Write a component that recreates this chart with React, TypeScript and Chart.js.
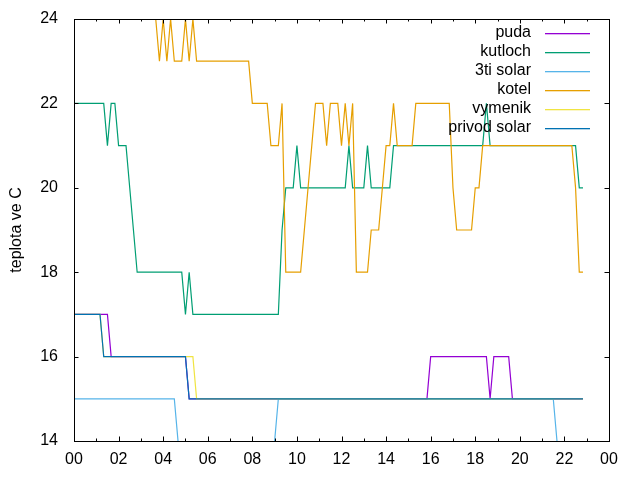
import React, { useEffect, useRef } from "react";
import { Chart, registerables } from "chart.js";

Chart.register(...registerables);

// ---------- data ----------
const seriesNames = ["puda", "kutloch", "3ti solar", "kotel", "vymenik", "privod solar"];
const seriesColors = ["#9400d3", "#009e73", "#56b4e9", "#e69f00", "#f0e442", "#0072b2"];

const pudaTimes = ["00:00", "01:30", "01:40", "05:00", "05:10", "15:50", "16:00", "18:30", "18:40", "18:50", "19:30", "19:40", "22:50"];
const pudaValues = [17, 17, 16, 16, 15, 15, 16, 16, 15, 16, 16, 15, 15];

const kutlochTimes = ["00:00", "01:20", "01:30", "01:40", "01:50", "02:00", "02:20", "02:30", "02:40", "02:50", "04:50", "05:00", "05:10", "05:20", "09:10", "09:20", "09:30", "09:50", "10:00", "10:10", "12:10", "12:20", "12:30", "13:00", "13:10", "13:20", "14:10", "14:20", "18:20", "18:30", "18:40", "22:30", "22:40", "22:50"];
const kutlochValues = [22, 22, 21, 22, 22, 21, 21, 20, 19, 18, 18, 17, 18, 17, 17, 19, 20, 20, 21, 20, 20, 21, 20, 20, 21, 20, 20, 21, 21, 22, 21, 21, 20, 20];

const solar3Times = ["00:00", "04:30", "04:40", "04:50", "08:50", "09:00", "09:10", "21:30", "21:40", "21:50", "22:50"];
const solar3Values = [15, 15, 14, 13, 13, 14, 15, 15, 14, 13, 13];

const kotelTimes = ["00:00", "03:30", "03:40", "03:50", "04:00", "04:10", "04:20", "04:30", "04:50", "05:00", "05:10", "05:20", "05:30", "07:50", "08:00", "08:40", "08:50", "09:10", "09:20", "09:30", "10:10", "10:20", "10:30", "10:40", "10:50", "11:10", "11:20", "11:30", "11:50", "12:00", "12:10", "12:20", "12:30", "12:40", "13:10", "13:20", "13:40", "13:50", "14:00", "14:10", "14:20", "14:30", "15:10", "15:20", "16:50", "17:00", "17:10", "17:50", "18:00", "18:10", "18:20", "22:20", "22:30", "22:40", "22:50"];
const kotelValues = [25, 25, 24, 23, 24, 23, 24, 23, 23, 24, 23, 24, 23, 23, 22, 22, 21, 21, 22, 18, 18, 19, 20, 21, 22, 22, 21, 22, 22, 21, 22, 21, 22, 18, 18, 19, 19, 20, 21, 21, 22, 21, 21, 22, 22, 20, 19, 19, 20, 20, 21, 21, 20, 18, 18];

const vymenikTimes = ["00:00", "01:10", "01:20", "05:20", "05:30", "22:50"];
const vymenikValues = [17, 17, 16, 16, 15, 15];

const privodTimes = ["00:00", "01:10", "01:20", "05:00", "05:10", "22:50"];
const privodValues = [17, 17, 16, 16, 15, 15];

const xTickHours = [0, 2, 4, 6, 8, 10, 12, 14, 16, 18, 20, 22, 24];
const xMinorHours = [1, 3, 5, 7, 9, 11, 13, 15, 17, 19, 21, 23];
const yTicks = [14, 16, 18, 20, 22, 24];
const yTitle = "teplota ve C";

// ---------- helpers ----------
const toHours = (t: string) => {
  const [h, m] = t.split(":").map(Number);
  return h + m / 60;
};
const toPoints = (times: string[], values: number[]) =>
  times.map((t, i) => ({ x: toHours(t), y: values[i] }));
const hourLabel = (h: number) => String(h % 24).padStart(2, "0");

const seriesData = [
  toPoints(pudaTimes, pudaValues),
  toPoints(kutlochTimes, kutlochValues),
  toPoints(solar3Times, solar3Values),
  toPoints(kotelTimes, kotelValues),
  toPoints(vymenikTimes, vymenikValues),
  toPoints(privodTimes, privodValues),
];

const FONT = "'Liberation Sans', Arial, sans-serif";
const FONT_SIZE = 16;

// gnuplot-like frame, inward ticks, tick labels, axis title and key
const framePlugin = {
  id: "gnuFrame",
  afterDatasetsDraw(chart: any) {
    const { ctx, chartArea, scales } = chart;
    const { left, right, top, bottom } = chartArea;
    const x = scales.x;
    const y = scales.y;
    ctx.save();
    ctx.strokeStyle = "#000";
    ctx.lineWidth = 1;
    ctx.beginPath();
    const tickX = (h: number, len: number) => {
      const px = Math.round(x.getPixelForValue(h)) + 0.5;
      ctx.moveTo(px, bottom);
      ctx.lineTo(px, bottom - len);
      ctx.moveTo(px, top);
      ctx.lineTo(px, top + len);
    };
    xTickHours.forEach((h) => tickX(h, 4.5));
    xMinorHours.forEach((h) => tickX(h, 2.5));
    for (const v of yTicks) {
      const py = Math.round(y.getPixelForValue(v)) + 0.5;
      ctx.moveTo(left, py);
      ctx.lineTo(left + 4.5, py);
      ctx.moveTo(right, py);
      ctx.lineTo(right - 4.5, py);
    }
    ctx.stroke();
    ctx.strokeRect(Math.round(left) + 0.5, Math.round(top) + 0.5, Math.round(right - left), Math.round(bottom - top));

    ctx.fillStyle = "#000";
    ctx.font = `${FONT_SIZE}px ${FONT}`;
    // x tick labels
    ctx.textAlign = "center";
    ctx.textBaseline = "middle";
    xTickHours.forEach((h) => {
      ctx.fillText(hourLabel(h), x.getPixelForValue(h), bottom + 19);
    });
    // y tick labels
    ctx.textAlign = "right";
    yTicks.forEach((v) => {
      ctx.fillText(String(v), left - 16, y.getPixelForValue(v));
    });
    // y title
    ctx.save();
    ctx.translate(17, (top + bottom) / 2);
    ctx.rotate(-Math.PI / 2);
    ctx.textAlign = "center";
    ctx.textBaseline = "middle";
    ctx.fillText(yTitle, 0, 0);
    ctx.restore();

    // key: text right-aligned, sample line to the right
    ctx.textAlign = "right";
    ctx.textBaseline = "middle";
    const textRight = 531;
    const lineX0 = 545;
    const lineX1 = 590;
    const row0 = 33;
    const rowH = 19;
    chart.data.datasets.forEach((ds: any, i: number) => {
      const yy = row0 + i * rowH;
      ctx.fillStyle = "#000";
      ctx.fillText(ds.label, textRight, yy);
      ctx.fillStyle = ds.borderColor;
      ctx.fillRect(lineX0, yy, lineX1 - lineX0, 1.3);
    });
    ctx.restore();
  },
};

export default function App() {
  const ref = useRef<HTMLCanvasElement>(null);
  useEffect(() => {
    const canvas = ref.current;
    if (!canvas) return;
    const chart = new Chart(canvas, {
      type: "line",
      data: {
        datasets: seriesNames.map((name, i) => ({
          label: name,
          data: seriesData[i],
          borderColor: seriesColors[i],
          backgroundColor: seriesColors[i],
          borderWidth: 1.2,
          pointRadius: 0,
          pointHoverRadius: 0,
          tension: 0,
          fill: false,
          order: seriesNames.length - 1 - i,
        })),
      },
      options: {
        animation: false,
        responsive: false,
        devicePixelRatio: 1,
        layout: { padding: { top: 19, right: 31, left: 74, bottom: 39 } },
        plugins: {
          legend: { display: false },
          tooltip: { enabled: false },
        },
        scales: {
          x: {
            type: "linear",
            display: false,
            min: xTickHours[0],
            max: xTickHours[xTickHours.length - 1],
            ticks: { stepSize: 2 },
          },
          y: {
            type: "linear",
            display: false,
            min: yTicks[0],
            max: yTicks[yTicks.length - 1],
            ticks: { stepSize: 2 },
          },
        },
      },
      plugins: [framePlugin],
    });
    return () => chart.destroy();
  }, []);
  return (
    <div style={{ position: "fixed", left: 0, top: 0, width: 640, height: 480, background: "#fff" }}>
      <canvas ref={ref} width={640} height={480} style={{ width: 640, height: 480, display: "block" }} />
    </div>
  );
}
